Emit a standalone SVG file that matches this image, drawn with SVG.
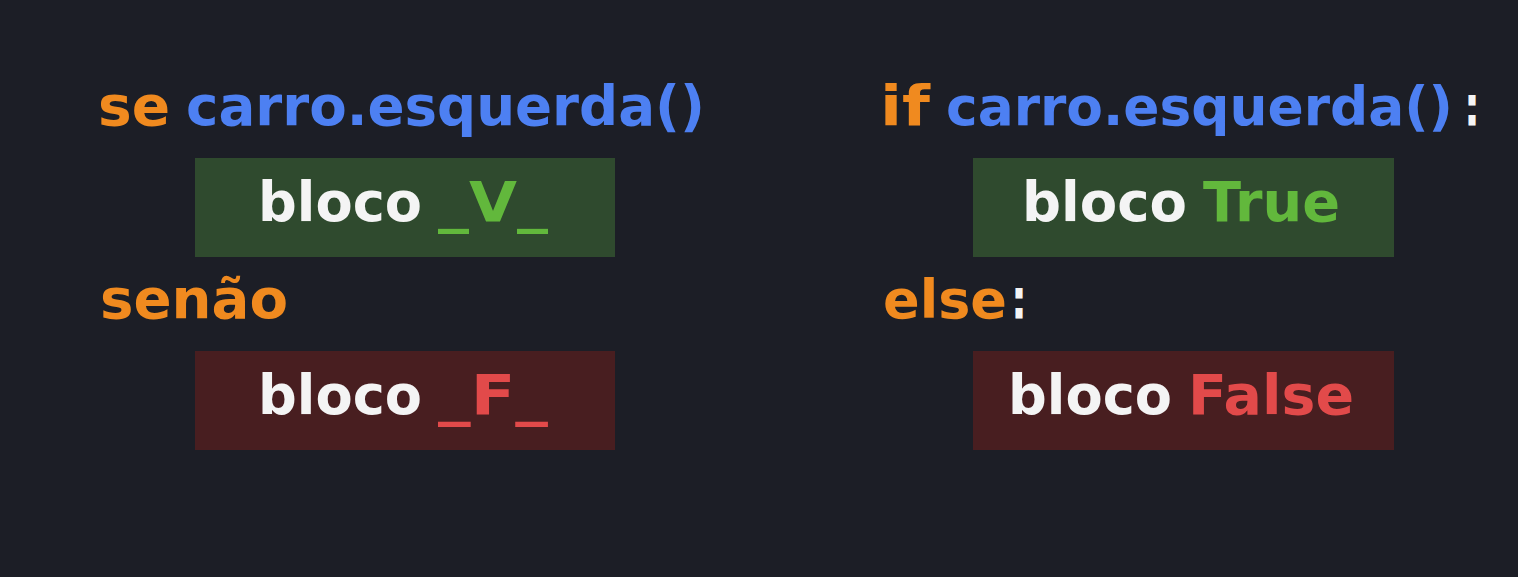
<svg xmlns="http://www.w3.org/2000/svg" width="1518" height="577" viewBox="0 0 1518 577">
<style>
text{font-family:"DejaVu Sans","Liberation Sans",sans-serif;font-weight:bold;font-size:56px}
.kw{fill:#f08a1f}.fn{fill:#4d80f2}.wh{fill:#f4f4f4}.gr{fill:#62b83c}.rd{fill:#e24a4a}
.gbox{fill:#2f4a2e}.rbox{fill:#481e20}
</style>
<rect width="1518" height="577" fill="#1c1e26"/>
<g id="pt-if">
<text class="kw" x="98" y="125" textLength="72" lengthAdjust="spacingAndGlyphs">se</text>
<text class="fn" x="186" y="125" textLength="519" lengthAdjust="spacingAndGlyphs">carro.esquerda()</text>
</g>
<g id="pt-true-block">
<rect class="gbox" x="195" y="158" width="420" height="99"/>
<text class="wh" x="258" y="221" textLength="164" lengthAdjust="spacingAndGlyphs">bloco</text>
<text class="gr" x="438" y="221" textLength="110" lengthAdjust="spacingAndGlyphs">_V_</text>
</g>
<g id="pt-else">
<text class="kw" x="100" y="318" textLength="188" lengthAdjust="spacingAndGlyphs">senão</text>
</g>
<g id="pt-false-block">
<rect class="rbox" x="195" y="351" width="420" height="99"/>
<text class="wh" x="258" y="414" textLength="164" lengthAdjust="spacingAndGlyphs">bloco</text>
<text class="rd" x="438" y="414" textLength="110" lengthAdjust="spacingAndGlyphs">_F_</text>
</g>
<g id="py-if">
<text class="kw" x="880" y="125" textLength="50" lengthAdjust="spacingAndGlyphs">if</text>
<text class="fn" x="946" y="125" style="font-size:53.5px" textLength="507" lengthAdjust="spacingAndGlyphs">carro.esquerda()</text>
<text class="wh" x="1464" y="125" textLength="16" lengthAdjust="spacingAndGlyphs">:</text>
</g>
<g id="py-true-block">
<rect class="gbox" x="973" y="158" width="421" height="99"/>
<text class="wh" x="1022" y="221" textLength="165" lengthAdjust="spacingAndGlyphs">bloco</text>
<text class="gr" x="1203" y="221" textLength="137" lengthAdjust="spacingAndGlyphs">True</text>
</g>
<g id="py-else">
<text class="kw" x="883" y="318" style="font-size:54px" textLength="124" lengthAdjust="spacingAndGlyphs">else</text>
<text class="wh" x="1011" y="318" textLength="16" lengthAdjust="spacingAndGlyphs">:</text>
</g>
<g id="py-false-block">
<rect class="rbox" x="973" y="351" width="421" height="99"/>
<text class="wh" x="1008" y="414" textLength="164" lengthAdjust="spacingAndGlyphs">bloco</text>
<text class="rd" x="1188" y="414" textLength="166" lengthAdjust="spacingAndGlyphs">False</text>
</g>
<g id="connectors"/>
</svg>
